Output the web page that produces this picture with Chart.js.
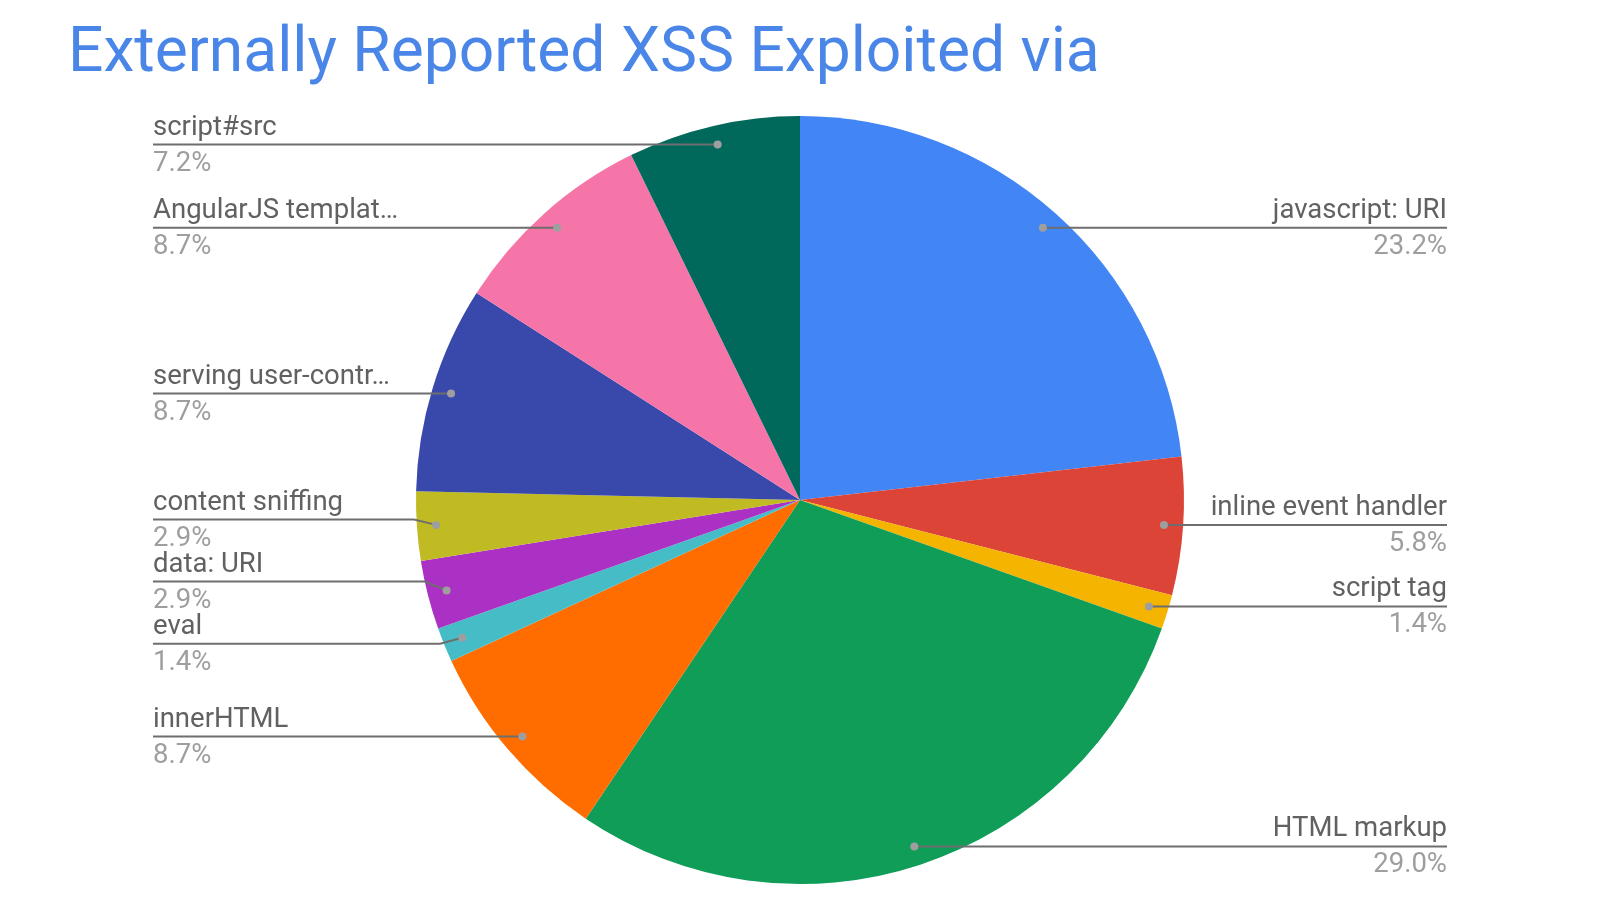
<!DOCTYPE html>
<html>
<head>
<meta charset="utf-8">
<script src="https://cdn.jsdelivr.net/npm/chart.js@4/dist/chart.umd.min.js"></script>
<style>
  html, body { margin: 0; padding: 0; background: #fff; }
  #wrap { position: relative; width: 1600px; height: 900px; }
  #title { position: absolute; left: 68px; top: 8px; font-family: Roboto, sans-serif; font-size: 62.3px; color: #4a86e8; white-space: nowrap; line-height: 84px; }
  canvas { position: absolute; left: 0; top: 0; }
</style>
</head>
<body>
<div id="wrap">
  <div id="title">Externally Reported XSS Exploited via</div>
  <canvas id="c" width="1600" height="900"></canvas>
</div>
<script>
const categories = ["javascript: URI", "inline event handler", "script tag", "HTML markup", "innerHTML", "eval", "data: URI", "content sniffing", "serving user-contr…", "AngularJS templat…", "script#src"];
const counts = [16, 4, 1, 20, 6, 1, 2, 2, 6, 6, 5];
const percentLabels = ["23.2%", "5.8%", "1.4%", "29.0%", "8.7%", "1.4%", "2.9%", "2.9%", "8.7%", "8.7%", "7.2%"];
const sliceColors = ["#4285f4", "#db4437", "#f4b400", "#0f9d58", "#ff6d00", "#46bdc6", "#ab30c4", "#c0bb23", "#3949ab", "#f675a8", "#00695c"];

const leaderPlugin = {
  id: 'leaders',
  afterDraw(chart) {
    const ctx = chart.ctx;
    const meta = chart.getDatasetMeta(0);
    const items = [];
    meta.data.forEach((arc, i) => {
      const p = arc.getProps(['x', 'y', 'startAngle', 'endAngle', 'outerRadius'], true);
      const a = (p.startAngle + p.endAngle) / 2;
      const r = p.outerRadius * 0.95;
      const dx = p.x + Math.cos(a) * r;
      const dy = p.y + Math.sin(a) * r;
      items.push({ i, dx, dy, ly: dy, left: dx < p.x });
    });
    const minGap = 62;
    [true, false].forEach(side => {
      const arr = items.filter(it => it.left === side).sort((a, b) => a.dy - b.dy);
      for (let iter = 0; iter < 100; iter++) {
        let moved = false;
        for (let k = 0; k < arr.length - 1; k++) {
          const gap = arr[k + 1].ly - arr[k].ly;
          if (gap < minGap) {
            const push = (minGap - gap) / 2;
            arr[k].ly -= push + 1; arr[k + 1].ly += push - 1; moved = true;
          }
        }
        if (!moved) break;
      }
    });
    ctx.save();
    items.forEach(it => {
      const textX = it.left ? 153 : 1447;
      const bendX = it.left ? it.dx - 22 : it.dx + 22;
      ctx.strokeStyle = '#6e6e6e';
      ctx.lineWidth = 2;
      ctx.beginPath();
      ctx.moveTo(textX, it.ly);
      if (Math.abs(it.ly - it.dy) > 1.5) {
        ctx.lineTo(bendX, it.ly);
      }
      ctx.lineTo(it.dx, it.dy);
      ctx.stroke();
      ctx.fillStyle = '#9e9e9e';
      ctx.beginPath();
      ctx.arc(it.dx, it.dy, 4, 0, Math.PI * 2);
      ctx.fill();
      ctx.textAlign = it.left ? 'left' : 'right';
      ctx.textBaseline = 'alphabetic';
      ctx.font = '27.5px Roboto, sans-serif';
      ctx.fillStyle = '#616161';
      ctx.fillText(categories[it.i], textX, it.ly - 10);
      ctx.fillStyle = '#9e9e9e';
      ctx.fillText(percentLabels[it.i], textX, it.ly + 26);
    });
    ctx.restore();
  }
};

new Chart(document.getElementById('c'), {
  type: 'pie',
  data: {
    labels: categories,
    datasets: [{ data: counts, backgroundColor: sliceColors, borderWidth: 0 }]
  },
  options: {
    responsive: false,
    animation: false,
    layout: { padding: { left: 416, right: 416, top: 116, bottom: 16 } },
    plugins: { legend: { display: false }, tooltip: { enabled: false }, title: { display: false } }
  },
  plugins: [leaderPlugin]
});
</script>
</body>
</html>
